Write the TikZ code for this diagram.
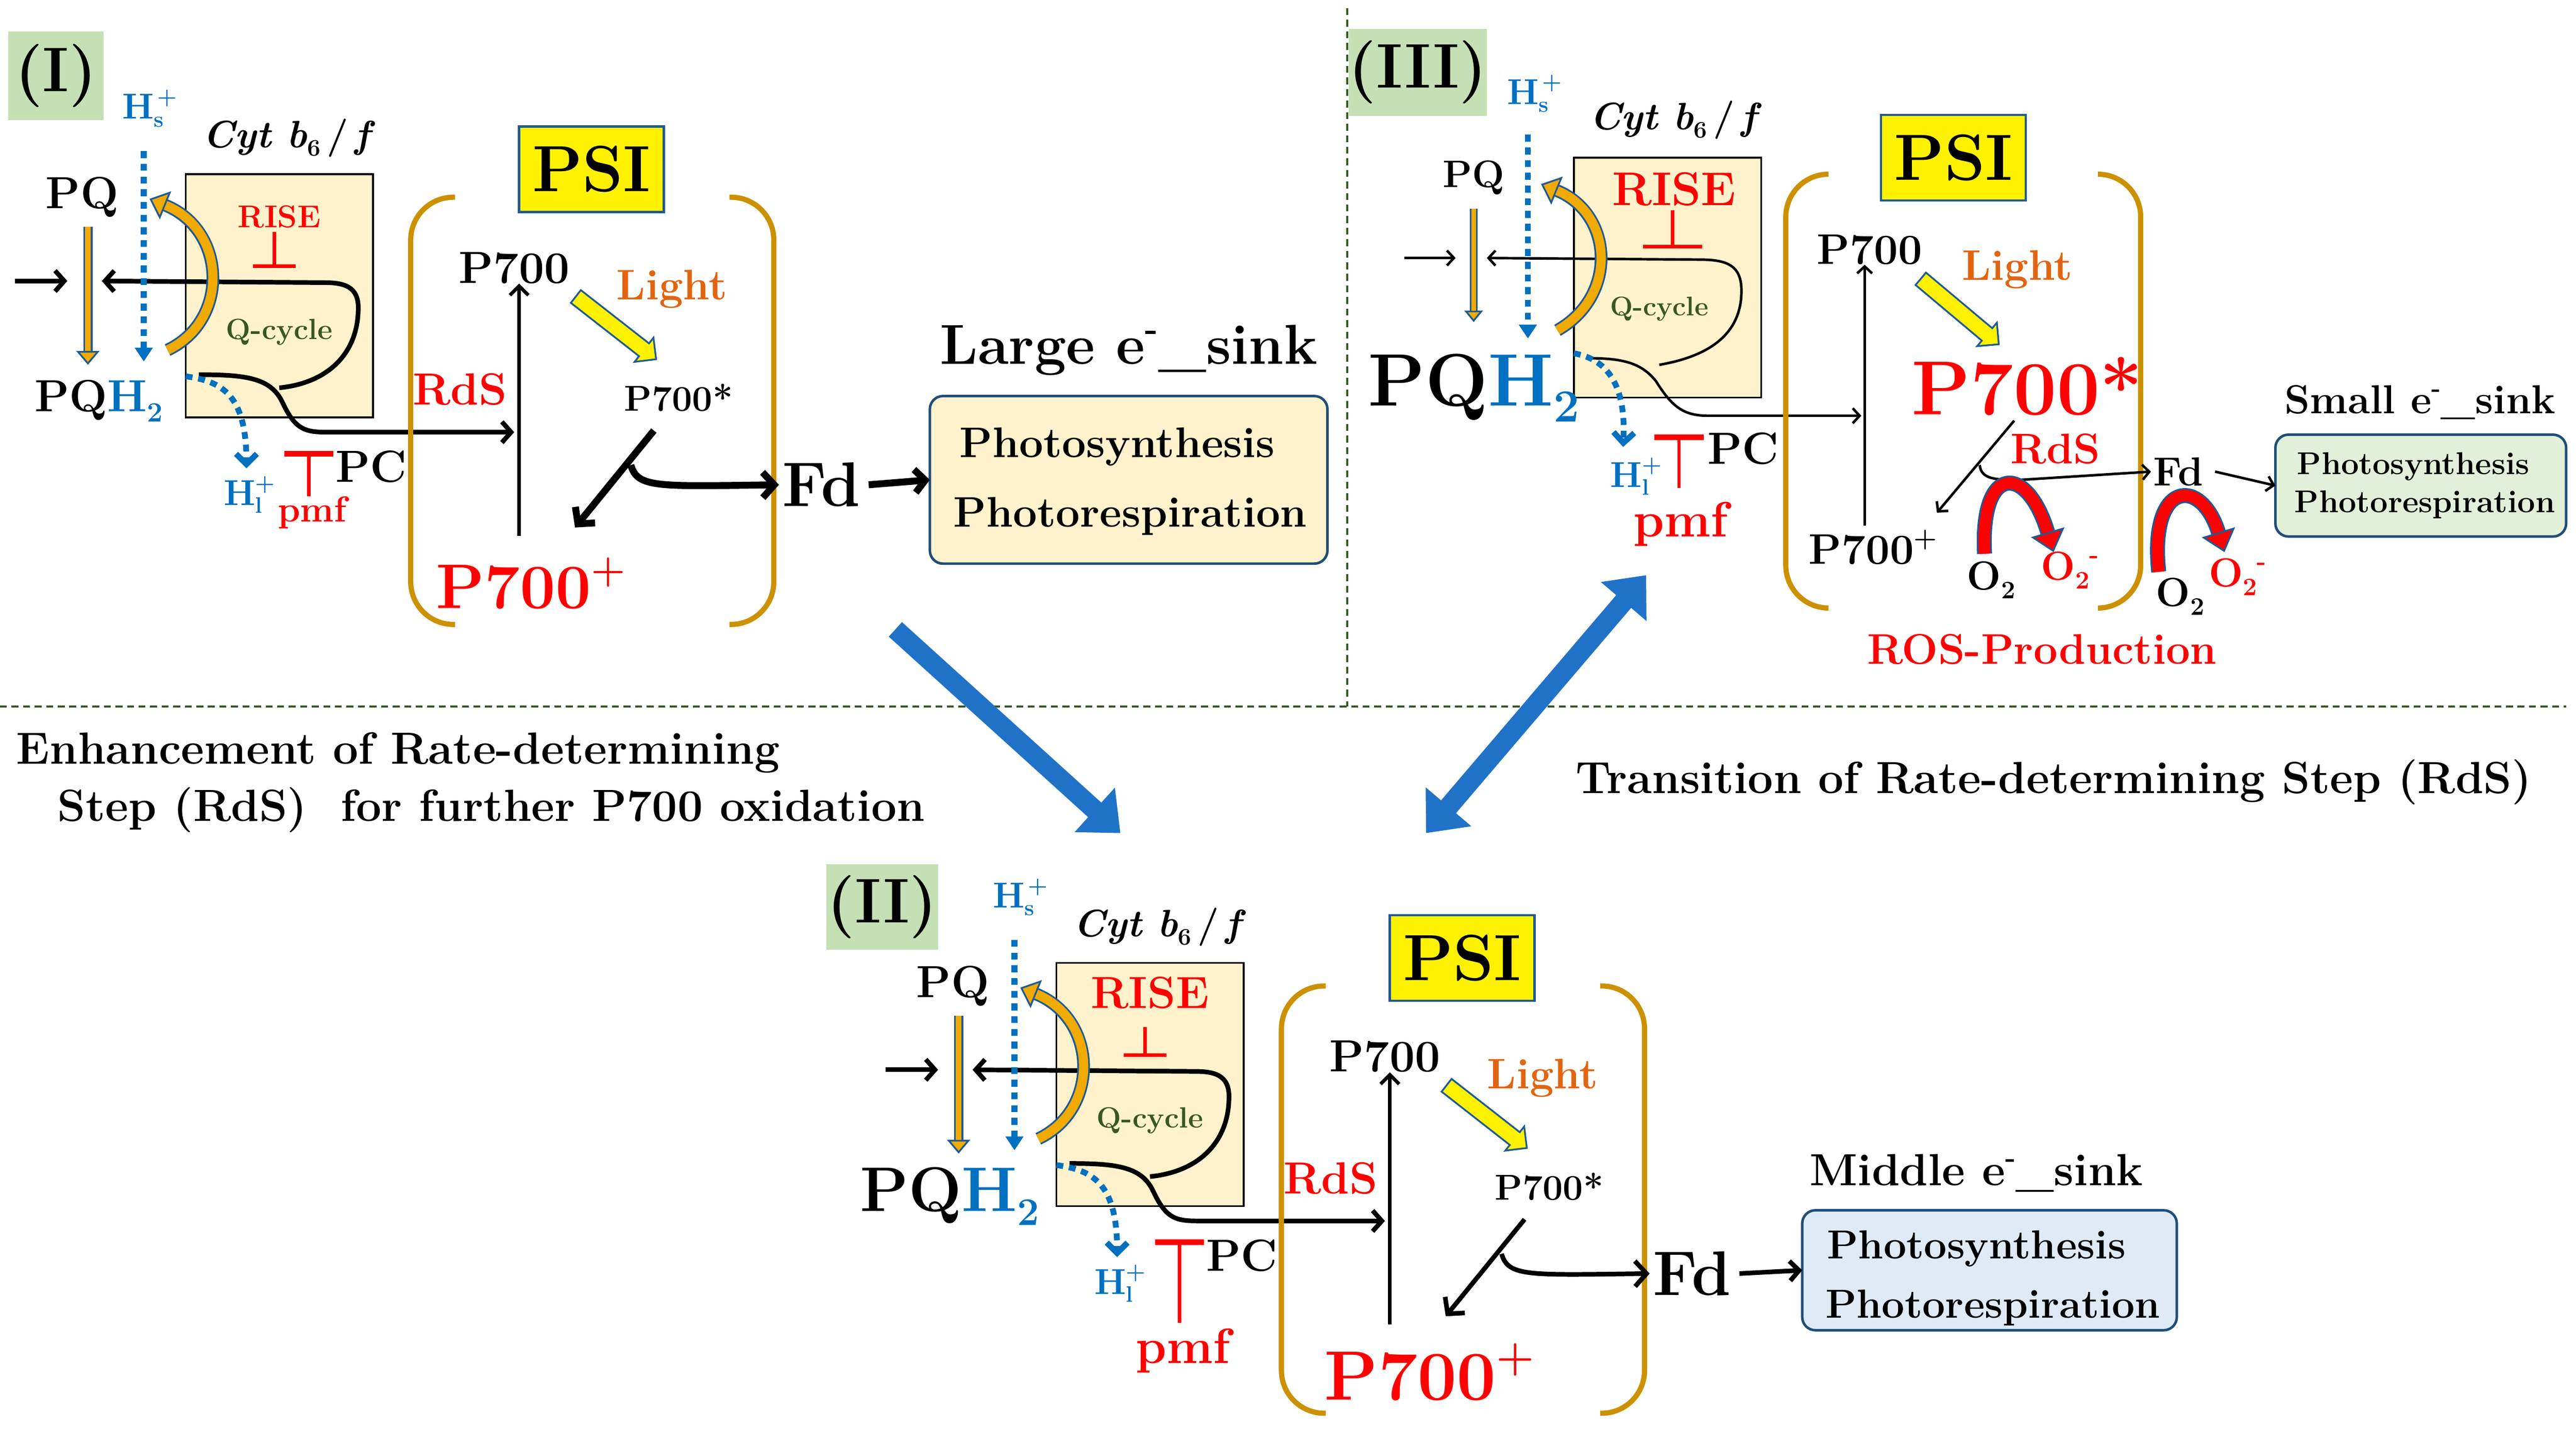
\documentclass[tikz,border=0pt]{standalone}
\usepackage{fontspec}
\usetikzlibrary{arrows.meta,shapes.arrows}
\definecolor{lblgreen}{RGB}{197,224,180}
\definecolor{cytfill}{RGB}{255,242,204}
\definecolor{myblue}{RGB}{0,112,192}
\definecolor{lightc}{RGB}{226,100,16}
\definecolor{brk}{RGB}{204,145,0}
\definecolor{qgreen}{RGB}{56,87,35}
\definecolor{gold}{RGB}{240,170,0}
\definecolor{outblue}{RGB}{31,90,150}
\definecolor{sinkb}{RGB}{31,78,121}
\definecolor{bigblue}{RGB}{32,114,200}
\definecolor{divg}{RGB}{55,86,35}
\definecolor{fillII}{RGB}{222,235,247}
\definecolor{fillIII}{RGB}{226,240,217}
\newcommand\fsz[1]{\fontsize{\fpeval{1.95*#1}}{\fpeval{2.4*#1}}\selectfont\bfseries}
\newcommand\supr[1]{\raisebox{0.42em}{\scalebox{0.62}{#1}}}
\newcommand\subr[1]{\raisebox{-0.22em}{\scalebox{0.62}{#1}}}
\tikzset{
 every node/.style={inner sep=0pt,outer sep=0pt},
 lbl/.style={fill=lblgreen,font=\fsz{28}},
 cytbox/.style={draw,line width=1.5pt,fill=cytfill},
 inh/.style={red,line width=3pt},
 blk/.style={line width=4pt,-{Straight Barb[length=8pt,width=18pt]}},
 thin/.style={line width=2.2pt,-{Straight Barb[length=6pt,width=13pt]}},
 bdot/.style={myblue,line width=5pt,dash pattern=on 6pt off 5pt},
 brkt/.style={brk,line width=4.5pt,rounded corners=13mm},
 psi/.style={draw=outblue,line width=2pt,fill=yellow,minimum width=44mm,minimum height=26mm,font=\fsz{29}},
 yarr/.style={single arrow,draw=outblue,line width=1.5pt,fill=yellow,inner sep=2.2mm,single arrow head extend=2.2mm},
 sink/.style={draw=sinkb,line width=2.2pt,rounded corners=4mm,align=left},
 bigarr/.style={bigblue,line width=17pt,-{Triangle[length=30pt,width=50pt]}},
 redarr/.style={outblue,line width=13pt,-{Triangle[length=18pt,width=30pt,fill=red,line width=1.5pt]}},
 redin/.style={red,line width=10pt,shorten >=18pt},
 orarr/.style={outblue,line width=11pt,-{Triangle[length=15pt,width=26pt,fill=gold,line width=1.5pt]}},
 orin/.style={gold,line width=8pt,shorten >=15pt},
}
\newcommand\cyttext{\textit{Cyt} \textit{b}\subr{6}\,/\,\textit{f}}
% panel core in panel-I coordinates
\newcommand\panelcore{%
 \node[font=\fsz{16},text=myblue] (hs) at (87,66) {H\rlap{\supr{\,+}}\subr{s}};
 \node[font=\fsz{17}] (cyt) at (176,84) {\cyttext};
 \node[cytbox,minimum width=57mm,minimum height=74mm] (box) at (170,180) {};
 \node[font=\fsz{\risesz},text=red] (rise) at (170,\risey) {RISE};
 \coordinate (ri1) at (167,\riset); \coordinate (ri2) at (167,162);
 \coordinate (ri3) at (154,162); \coordinate (ri4) at (180,162);
 \draw[inh] (ri1) -- (ri2); \draw[inh] (ri3) -- (ri4);
 \node[font=\fsz{13},text=qgreen] (qc) at (170,202) {Q-cycle};
 \node[font=\fsz{20}] (pq) at (50,120) {PQ};
 \node[font=\fsz{\pqhsz}] (pqh) at (\pqhx,\pqhy) {PQ\textcolor{myblue}{H\subr{2}}};
 \coordinate (oa1) at (53.5,138); \coordinate (oa2) at (53.5,222);
 \draw[outblue,line width=8pt,-{Triangle[length=12pt,width=20pt,fill=gold,line width=1.5pt]}] (oa1) -- (oa2);
 \draw[gold,line width=5pt,shorten >=12pt] (oa1) -- (oa2);
 \coordinate (ba1) at (9,171); \coordinate (ba2) at (41,171);
 \draw[blk] (ba1) -- (ba2);
 \coordinate (qa) at (121,228); \coordinate (pcin) at (313,263);
 \draw[blk] (qa) .. controls (150,228) and (165,230) .. (172,245) .. controls (180,262) and (186,263) .. (200,263) -- (pcin);
 \coordinate (qb) at (170,236); \coordinate (pqin) at (62,171);
 \draw[blk] (qb) .. controls (200,233) and (217,215) .. (218,190) .. controls (219,176) and (212,172) .. (198,172) -- (pqin);
 \coordinate (bd1) at (87.5,92); \coordinate (bd2) at (87.5,220);
 \draw[bdot,-{Triangle[length=12pt,width=15pt]}] (bd1) -- (bd2);
 \coordinate (cu1) at (102,213); \coordinate (cu2) at (91,121);
 \draw[orarr] (cu1) .. controls (140,195) and (138,140) .. (cu2);
 \draw[orin] (cu1) .. controls (140,195) and (138,140) .. (cu2);
 \coordinate (dc1) at (113,229); \coordinate (dc2) at (150,285);
 \draw[bdot,-{Straight Barb[length=9pt,width=18pt]}] (dc1) .. controls (135,232) and (150,240) .. (dc2);
 \node[font=\fsz{16},text=myblue] (hl) at (148,301) {H\rlap{\supr{+}}\subr{l}};
 \coordinate (pm1) at (188,276); \coordinate (pm2) at (188,\pmft);
 \coordinate (pm3) at (173,276); \coordinate (pm4) at (203,276);
 \draw[inh] (pm1) -- (pm2); \draw[inh,line width=5pt] (pm3) -- (pm4);
 \node[font=\fsz{\pmfsz},text=red] (pmf) at (190,\pmfy) {pmf};
 \node[font=\fsz{20}] (pc) at (226,284) {PC};
 \coordinate (bl1) at (277,120); \coordinate (bl2) at (250,380); \coordinate (bl3) at (277,380);
 \draw[brkt] (bl1) -| (bl2) -- (bl3);
 \coordinate (br1) at (444,120); \coordinate (br2) at (471,380); \coordinate (br3) at (444,380);
 \draw[brkt] (br1) -| (br2) -- (br3);
 \node[psi] (psi) at (360,103) {PSI};
 \node[font=\fsz{20}] (p700) at (313,163) {P700};
 \coordinate (va1) at (316,326);
 \draw[line width=3pt,-{Straight Barb[length=8pt,width=16pt]}] (va1) -- (p700.south -| va1);
 \node[font=\fsz{19},text=lightc] (light) at (409,176) {Light};
 \node[yarr,minimum height=31mm,rotate=-38] (ya) at (373,198) {};
 \node[font=\fsz{16}] (p7s) at (413,242) {P700*};
 \node[font=\fsz{20},text=red] (rds) at (280,237) {RdS};
 \node[font=\fsz{\ppsz},text=red] (p7p) at (\ppx,355) {P700\supr{+}};
 \node[font=\fsz{28}] (fd) at (500,295) {Fd};
 \coordinate (ta1) at (398,262); \coordinate (ta2) at (350,321); \coordinate (tb1) at (384,283);
 \draw[line width=\thk,-{Straight Barb[length=10pt,width=22pt]}] (ta1) -- (ta2);
 \draw[line width=\thk,-{Straight Barb[length=10pt,width=22pt]}] (tb1) .. controls (388,297) and (400,296) .. ([xshift=-3pt]fd.west);
}
\begin{document}
\begin{tikzpicture}[x=0.5mm,y=-0.5mm]
\useasboundingbox (0,0) rectangle (1568,869.4);
% dividers
\coordinate (dv1) at (820,5); \coordinate (dv2) at (820,430);
\coordinate (dh1) at (0,430); \coordinate (dh2) at (1562,430);
\draw[divg,line width=1.6pt,dash pattern=on 6pt off 4pt] (dv1) -- (dv2);
\draw[divg,line width=1.6pt,dash pattern=on 6pt off 4pt] (dh1) -- (dh2);
% ---------- Panel I
\node[lbl,minimum width=29mm,minimum height=27mm] (labI) at (34,46) {(I)};
\begin{scope}[name prefix=I-]
 \def\risesz{14}\def\risey{132}\def\riset{141}
 \def\pqhsz{20}\def\pqhx{60}\def\pqhy{244}
 \def\pmfsz{16}\def\pmfy{312}\def\pmft{302}
 \def\ppsz{28}\def\ppx{323}\def\thk{6pt}
 \panelcore
 \node[font=\fsz{25}] (sinkt) at (687,213) {Large e\supr{-}\_sink};
 \node[sink,fill=cytfill,minimum width=121mm,minimum height=51mm] (sink) at (687,292) {};
 \node[font=\fsz{19}] (s1) at (680,272) {Photosynthesis};
 \node[font=\fsz{19}] (s2) at (688,314) {Photorespiration};
 \draw[line width=6pt,-{Straight Barb[length=9pt,width=20pt]}] (fd.east) ++(5,0) -- (sink.west);
\end{scope}
% ---------- Panel II
\node[lbl,minimum width=34mm,minimum height=26mm] (labII) at (537,552) {(II)};
\begin{scope}[shift={(530,480)},name prefix=II-]
 \def\risesz{20}\def\risey{124}\def\riset{145}
 \def\pqhsz{28}\def\pqhx{48}\def\pqhy{248}
 \def\pmfsz{22}\def\pmfy{342}\def\pmft{325}
 \def\ppsz{31}\def\ppx{340}\def\thk{4pt}
 \panelcore
 \node[font=\fsz{20}] (sinkt) at (673,234) {Middle e\supr{-}\_sink};
 \node[sink,fill=fillII,minimum width=114mm,minimum height=36.5mm] (sink) at (681,293) {};
 \node[font=\fsz{18}] (s1) at (673,280) {Photosynthesis};
 \node[font=\fsz{18}] (s2) at (683,316) {Photorespiration};
 \draw[line width=4pt,-{Straight Barb[length=8pt,width=17pt]}] (fd.east) ++(5,0) -- (sink.west);
\end{scope}
% ---------- Panel III
\node[lbl,minimum width=40mm,minimum height=26.5mm] (labIII) at (863,44) {(III)};
\begin{scope}[name prefix=III-]
 \node[font=\fsz{16},text=myblue] (hs) at (930,57) {H\rlap{\supr{\,+}}\subr{s}};
 \node[font=\fsz{17}] (cyt) at (1020,73) {\cyttext};
 \node[cytbox,minimum width=57mm,minimum height=73mm] (box) at (1015,169) {};
 \node[font=\fsz{21},text=red] (rise) at (1019,115) {RISE};
 \coordinate (ri1) at (1018,128); \coordinate (ri2) at (1018,150);
 \coordinate (ri3) at (1000,150); \coordinate (ri4) at (1036,150);
 \draw[inh] (ri1) -- (ri2); \draw[inh] (ri3) -- (ri4);
 \node[font=\fsz{12},text=qgreen] (qc) at (1010,188) {Q-cycle};
 \node[font=\fsz{17}] (pq) at (897,108) {PQ};
 \node[font=\fsz{33}] (pqh) at (897,236) {PQ\textcolor{myblue}{H\subr{2}}};
 \coordinate (oa1) at (897,127); \coordinate (oa2) at (897,196);
 \draw[outblue,line width=6.5pt,-{Triangle[length=10pt,width=16pt,fill=gold,line width=1.5pt]}] (oa1) -- (oa2);
 \draw[gold,line width=3.8pt,shorten >=10pt] (oa1) -- (oa2);
 \coordinate (ba1) at (855,157); \coordinate (ba2) at (886,157);
 \draw[thin] (ba1) -- (ba2);
 \coordinate (qa) at (968,218); \coordinate (pcin) at (1133,253);
 \draw[thin] (qa) .. controls (990,218) and (1000,222) .. (1008,232) .. controls (1018,248) and (1025,253) .. (1040,253) -- (pcin);
 \coordinate (qb) at (1010,222); \coordinate (pqin) at (905,157);
 \draw[thin] (qb) .. controls (1045,216) and (1060,200) .. (1060,177) .. controls (1060,162) and (1052,158) .. (1035,158) -- (pqin);
 \coordinate (bd1) at (930,82); \coordinate (bd2) at (930,206);
 \draw[bdot,-{Triangle[length=12pt,width=15pt]}] (bd1) -- (bd2);
 \coordinate (cu1) at (948,201); \coordinate (cu2) at (938,112);
 \draw[orarr] (cu1) .. controls (985,180) and (982,130) .. (cu2);
 \draw[orin] (cu1) .. controls (985,180) and (982,130) .. (cu2);
 \coordinate (dc1) at (958,215); \coordinate (dc2) at (988,272);
 \draw[bdot,-{Straight Barb[length=9pt,width=18pt]}] (dc1) .. controls (975,218) and (990,230) .. (dc2);
 \node[font=\fsz{16},text=myblue] (hl) at (992,290) {H\rlap{\supr{+}}\subr{l}};
 \coordinate (pm1) at (1022,266); \coordinate (pm2) at (1022,297);
 \coordinate (pm3) at (1007,266); \coordinate (pm4) at (1037,266);
 \draw[inh] (pm1) -- (pm2); \draw[inh,line width=5pt] (pm3) -- (pm4);
 \node[font=\fsz{22},text=red] (pmf) at (1023,319) {pmf};
 \node[font=\fsz{20}] (pc) at (1061,273) {PC};
 \coordinate (bl1) at (1113,106); \coordinate (bl2) at (1087,370); \coordinate (bl3) at (1113,370);
 \draw[brkt] (bl1) -| (bl2) -- (bl3);
 \coordinate (br1) at (1277,106); \coordinate (br2) at (1303,370); \coordinate (br3) at (1277,370);
 \draw[brkt] (br1) -| (br2) -- (br3);
 \node[psi] (psi) at (1189,96) {PSI};
 \node[font=\fsz{19}] (p700) at (1138,152) {P700};
 \coordinate (va1) at (1135,320);
 \draw[thin] (va1) -- (p700.south -| va1);
 \node[font=\fsz{19},text=lightc] (light) at (1228,164) {Light};
 \node[yarr,minimum height=31mm,rotate=-40] (ya) at (1191,188) {};
 \node[font=\fsz{34},text=red] (p7s) at (1234,235) {P700*};
 \node[font=\fsz{19},text=red] (rds) at (1251,273) {RdS};
 \node[font=\fsz{19}] (p7p) at (1140,333) {P700\supr{+}};
 \node[font=\fsz{18}] (fd) at (1326,287) {Fd};
 \coordinate (ta1) at (1226,256); \coordinate (ta2) at (1179,312); \coordinate (tb1) at (1205,283);
 \draw[thin] (ta1) -- (ta2);
 \draw[thin] (tb1) .. controls (1206,292) and (1215,292) .. (1230,292) -- ([xshift=-2pt]fd.west);
 % red ROS arrows
 \coordinate (ra1) at (1208,337); \coordinate (ra2) at (1250,336);
 \draw[redarr] (ra1) .. controls (1205,282) and (1234,282) .. (ra2);
 \draw[redin] (ra1) .. controls (1205,282) and (1234,282) .. (ra2);
 \coordinate (rb1) at (1314,348); \coordinate (rb2) at (1354,336);
 \draw[redarr] (rb1) .. controls (1308,292) and (1340,290) .. (rb2);
 \draw[redin] (rb1) .. controls (1308,292) and (1340,290) .. (rb2);
 \node[font=\fsz{18}] (o1) at (1212,353) {O\subr{2}};
 \node[font=\fsz{18},text=red] (o1m) at (1260,347) {O\subr{2}\supr{-}};
 \node[font=\fsz{18}] (o2) at (1327,363) {O\subr{2}};
 \node[font=\fsz{18},text=red] (o2m) at (1362,351) {O\subr{2}\supr{-}};
 \node[font=\fsz{19},text=red] (ros) at (1243,395) {ROS-Production};
 \node[font=\fsz{18}] (sinkt) at (1473,245) {Small e\supr{-}\_sink};
 \node[sink,fill=fillIII,minimum width=88.5mm,minimum height=31mm] (sink) at (1473.5,295.5) {};
 \node[font=\fsz{14}] (s1) at (1469,284) {Photosynthesis};
 \node[font=\fsz{14}] (s2) at (1476,307) {Photorespiration};
 \draw[thin] (fd.east) ++(7,0) -- (sink.west);
\end{scope}
% bottom texts
\node[font=\fsz{20},anchor=west] (t1) at (10,458) {Enhancement of Rate-determining};
\node[font=\fsz{20},anchor=west] (t2) at (35,493) {Step (RdS)\ \ for further P700 oxidation};
\node[font=\fsz{20}] (t3) at (1250,476) {Transition of Rate-determining Step (RdS)};
% big arrows
\coordinate (A1) at (545,383); \coordinate (A2) at (682,507);
\draw[bigarr] (A1) -- (A2);
\coordinate (B1) at (868,507); \coordinate (B2) at (1002,350);
\draw[bigarr,{Triangle[length=30pt,width=50pt]}-{Triangle[length=30pt,width=50pt]}] (B1) -- (B2);
\end{tikzpicture}
\end{document}
